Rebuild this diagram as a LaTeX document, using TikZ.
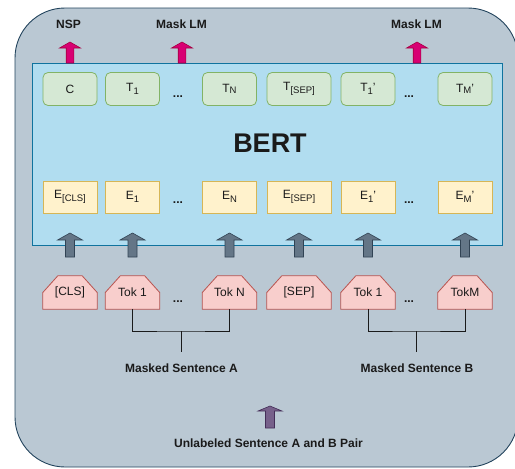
\documentclass[tikz,border=0pt]{standalone}
\usepackage{fontspec}
\setmainfont{Liberation Sans}
\usetikzlibrary{calc}

\pgfdeclarelayer{back}
\pgfdeclarelayer{mid}
\pgfsetlayers{back,mid,main}

\definecolor{framebg}{HTML}{BAC8D3}
\definecolor{frameln}{HTML}{23445D}
\definecolor{bertbg}{HTML}{B1DDF0}
\definecolor{bertln}{HTML}{10739E}
\definecolor{greenbg}{HTML}{D5E8D4}
\definecolor{greenln}{HTML}{82B366}
\definecolor{yelbg}{HTML}{FFF2CC}
\definecolor{yelln}{HTML}{D6B656}
\definecolor{tokbg}{HTML}{F8CECC}
\definecolor{tokln}{HTML}{B85450}
\definecolor{magbg}{HTML}{D80073}
\definecolor{magln}{HTML}{A50040}
\definecolor{slatebg}{HTML}{647687}
\definecolor{slateln}{HTML}{314354}
\definecolor{purpbg}{HTML}{76608A}
\definecolor{purpln}{HTML}{432D57}
\definecolor{ink}{HTML}{1A1A1A}

% lowered subscript and slightly lowered small letter
\newcommand\subx[1]{\raisebox{-0.45ex}{\fontsize{9.5}{10}\selectfont #1}}
\newcommand\lowcap[1]{\raisebox{-0.1ex}{\fontsize{9.5}{10}\selectfont #1}}

\tikzset{
  arrlen/.store in=\arlen, headlen/.store in=\hdlen,
  headhw/.store in=\hdhw, shafthw/.store in=\shhw,
  arrlen=24, headlen=7, headhw=12.5, shafthw=4.5,
  % block arrow pointing up, base at the pic origin
  fatup/.pic={
    \path[pic actions] (-\shhw,0) -- (-\shhw,-\arlen+\hdlen) -- (-\hdhw,-\arlen+\hdlen)
      -- (0,-\arlen) -- (\hdhw,-\arlen+\hdlen) -- (\shhw,-\arlen+\hdlen) -- (\shhw,0) -- cycle;
  },
  grayup/.style={arrlen=24, headlen=7, headhw=12.5, shafthw=4.5, fill=slatebg, draw=slateln, line width=0.6pt},
  magup/.style={arrlen=21, headlen=6, headhw=10.5, shafthw=3.8, fill=magbg, draw=magln, line width=0.6pt},
  purpup/.style={arrlen=22, headlen=5, headhw=12, shafthw=4.5, fill=purpbg, draw=purpln, line width=0.6pt},
  every node/.style={font=\fontsize{12}{14}\selectfont, text=ink},
  lbl/.style={font=\fontsize{12}{14}\selectfont\bfseries},
  tbox/.style={draw=greenln, fill=greenbg, rounded corners=5pt, line width=0.8pt,
    minimum width=54, minimum height=33, inner sep=0pt},
  ebox/.style={draw=yelln, fill=yelbg, line width=0.8pt,
    minimum width=54, minimum height=32, inner sep=0pt},
  tok/.style={minimum width=54, minimum height=33, inner sep=0pt},
  tokshape/.style={draw=tokln, fill=tokbg, line width=0.8pt},
  dots/.style={font=\fontsize{12}{14}\selectfont\bfseries, inner sep=0pt},
  brace/.style={draw=ink, line width=0.9pt},
}

\begin{document}
\begin{tikzpicture}[x=1pt, y=-1pt]
\useasboundingbox (0,0) rectangle (515,469);

% outer frame and BERT block
\begin{pgfonlayer}{back}
  \draw[fill=framebg, draw=frameln, line width=0.9pt, rounded corners=50pt]
    (15,8) rectangle (518,467);
  \draw[fill=bertbg, draw=bertln, line width=0.9pt] (32,63) rectangle (502,245);
\end{pgfonlayer}

\node[font=\fontsize{27}{30}\selectfont\bfseries] (bert) at (270,143) {BERT};

% output row
\node[tbox] (c)    at (70,89)    {C};
\node[tbox] (t1)   at (132.5,89) {T\subx{1}};
\node[tbox] (tn)   at (229.5,89) {T\lowcap{N}};
\node[tbox, minimum width=64] (tsep) at (299,89) {T\subx{[SEP]}};
\node[tbox] (t1b)  at (368,89)   {T\subx{1}'};
\node[tbox] (tmb)  at (465,89)   {T\lowcap{M}'};
\node[dots] (d1) at (178,97) {...};
\node[dots] (d2) at (409,97) {...};

% embedding row
\node[ebox] (ecls) at (70,197)    {E\subx{[CLS]}};
\node[ebox] (e1)   at (132.5,197) {E\subx{1}};
\node[ebox] (en)   at (229.5,197) {E\subx{N}};
\node[ebox, minimum width=64] (esep) at (299,197) {E\subx{[SEP]}};
\node[ebox] (e1b)  at (368,197)   {E\subx{1}'};
\node[ebox] (emb)  at (465,197)   {E\subx{M}'};
\node[dots] (d3) at (178,203) {...};
\node[dots] (d4) at (409,203) {...};

% input tokens
\node[tok] (k1) at (70,292.5)    {[CLS]};
\node[tok] (k2) at (132.5,292.5) {Tok 1};
\node[tok] (k3) at (229.5,292.5) {Tok N};
\node[tok, minimum width=64] (k4) at (299,292.5) {[SEP]};
\node[tok] (k5) at (368,292.5)   {Tok 1};
\node[tok] (k6) at (465,292.5)   {TokM};
\node[dots] (d5) at (178,302) {...};
\node[dots] (d6) at (409,302) {...};

\begin{pgfonlayer}{mid}
  \foreach \n in {k1,k2,k3,k4,k5,k6}
    \draw[tokshape] (\n.south west) -- (\n.west) -- ([xshift=15pt]\n.north west)
      -- ([xshift=-15pt]\n.north east) -- (\n.east) -- (\n.south east) -- cycle;
\end{pgfonlayer}

% arrows into the embeddings
\foreach \x in {70,132.5,229.5,299,368,465}
  \pic[grayup] at (\x,257) {fatup};

% output heads
\pic[magup] at (70,63)  {fatup};
\pic[magup] at (182,63) {fatup};
\pic[magup] at (417,63) {fatup};
\node[lbl] (nsp)  at (68.5,24)  {NSP};
\node[lbl] (mlm1) at (181.5,24) {Mask LM};
\node[lbl] (mlm2) at (416.5,24) {Mask LM};

% sentence groupings
\coordinate (ja) at (181,331);
\coordinate (jae) at (181,352);
\coordinate (jb) at (416,331);
\coordinate (jbe) at (416,352);
\draw[brace] (k2.south) |- (ja) -| (k3.south);
\draw[brace] (ja) -- (jae);
\draw[brace] (k5.south) |- (jb) -| (k6.south);
\draw[brace] (jb) -- (jbe);
\node[lbl] (sa) at (181.5,368) {Masked Sentence A};
\node[lbl] (sb) at (417,368) {Masked Sentence B};

% raw input
\pic[purpup] at (270,428) {fatup};
\node[lbl] (pair) at (268.5,443) {Unlabeled Sentence A and B Pair};
\end{tikzpicture}
\end{document}
